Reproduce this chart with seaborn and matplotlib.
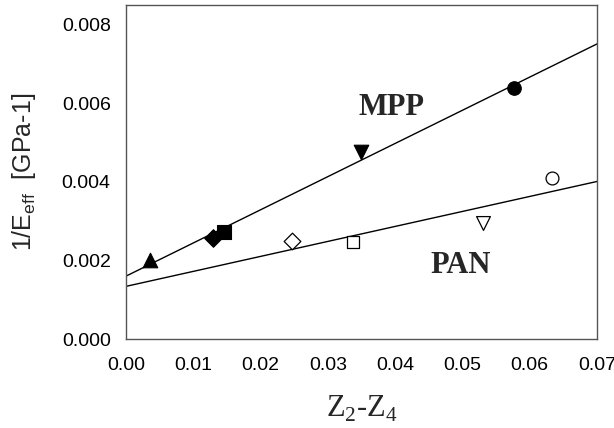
import numpy as np
import matplotlib
matplotlib.use("Agg")
import matplotlib.pyplot as plt
import seaborn as sns

# MPP series (filled markers)
mpp_x = [0.0036, 0.0130, 0.0146, 0.0349, 0.0577]
mpp_y = [0.00200, 0.00257, 0.00273, 0.00476, 0.00639]
mpp_markers = ["^", "D", "s", "v", "o"]

# PAN series (open markers)
pan_x = [0.0246, 0.0338, 0.0530, 0.0633]
pan_y = [0.00250, 0.00248, 0.00295, 0.00409]
pan_markers = ["D", "s", "v", "o"]

x_ticks = [0.00, 0.01, 0.02, 0.03, 0.04, 0.05, 0.06, 0.07]
y_ticks = [0.000, 0.002, 0.004, 0.006, 0.008]

sns.set_style("white")
plt.rcParams["font.family"] = ["Liberation Sans", "DejaVu Sans"]
plt.rcParams["mathtext.fontset"] = "custom"
plt.rcParams["mathtext.rm"] = "Liberation Serif"
plt.rcParams["mathtext.sf"] = "Liberation Sans"

fig = plt.figure(figsize=(6.14, 4.28), dpi=100)
ax = fig.add_axes([126 / 614, 1 - 339 / 428, (597 - 126) / 614, (339 - 5) / 428])
ax.set_xlim(0, 0.07)
ax.set_ylim(0, 0.0085)

marker_sizes = {"^": 110, "D": 80, "s": 95, "v": 110, "o": 95}

# regression lines over the whole x range
for xs, ys in [(mpp_x, mpp_y), (pan_x, pan_y)]:
    sns.regplot(x=np.array(xs), y=np.array(ys), ax=ax, scatter=False, ci=None,
                truncate=False, color="black", line_kws={"lw": 1.0})

for xv, yv, m in zip(mpp_x, mpp_y, mpp_markers):
    sns.scatterplot(x=[xv], y=[yv], ax=ax, marker=m, s=marker_sizes[m],
                    color="black", edgecolor="black", linewidth=0.8, zorder=3)

for xv, yv, m in zip(pan_x, pan_y, pan_markers):
    sns.scatterplot(x=[xv], y=[yv], ax=ax, marker=m, s=marker_sizes[m] * 0.9,
                    facecolor="white", edgecolor="black", linewidth=0.9, zorder=3)

ax.set_xlim(0, 0.07)
ax.set_ylim(0, 0.0085)
ax.set_xticks(x_ticks)
ax.set_xticklabels([f"{v:.2f}" for v in x_ticks])
ax.set_yticks(y_ticks)
ax.set_yticklabels([f"{v:.3f}" for v in y_ticks])
ax.tick_params(axis="both", direction="out", length=6, width=1, color="#555555",
               labelsize=14, labelcolor="black", pad=5)
ax.tick_params(axis="x", pad=7)
for sp in ax.spines.values():
    sp.set_visible(True)
    sp.set_color("#555555")
    sp.set_linewidth(1.0)

ax.text(0.0395, 0.0059, "MPP", fontfamily="Liberation Serif", fontweight="bold",
        fontsize=22, ha="center", va="center")
ax.text(0.0497, 0.00188, "PAN", fontfamily="Liberation Serif", fontweight="bold",
        fontsize=22, ha="center", va="center")

ax.set_xlabel(r"Z$_{\mathrm{2}}$-Z$_{\mathrm{4}}$", fontfamily="Liberation Serif",
              fontsize=22, labelpad=14)
ax.set_ylabel(r"1/E$_{\mathsf{eff}}$  [GPa-1]", fontsize=18, labelpad=17)

fig.savefig("out.png", dpi=100)
